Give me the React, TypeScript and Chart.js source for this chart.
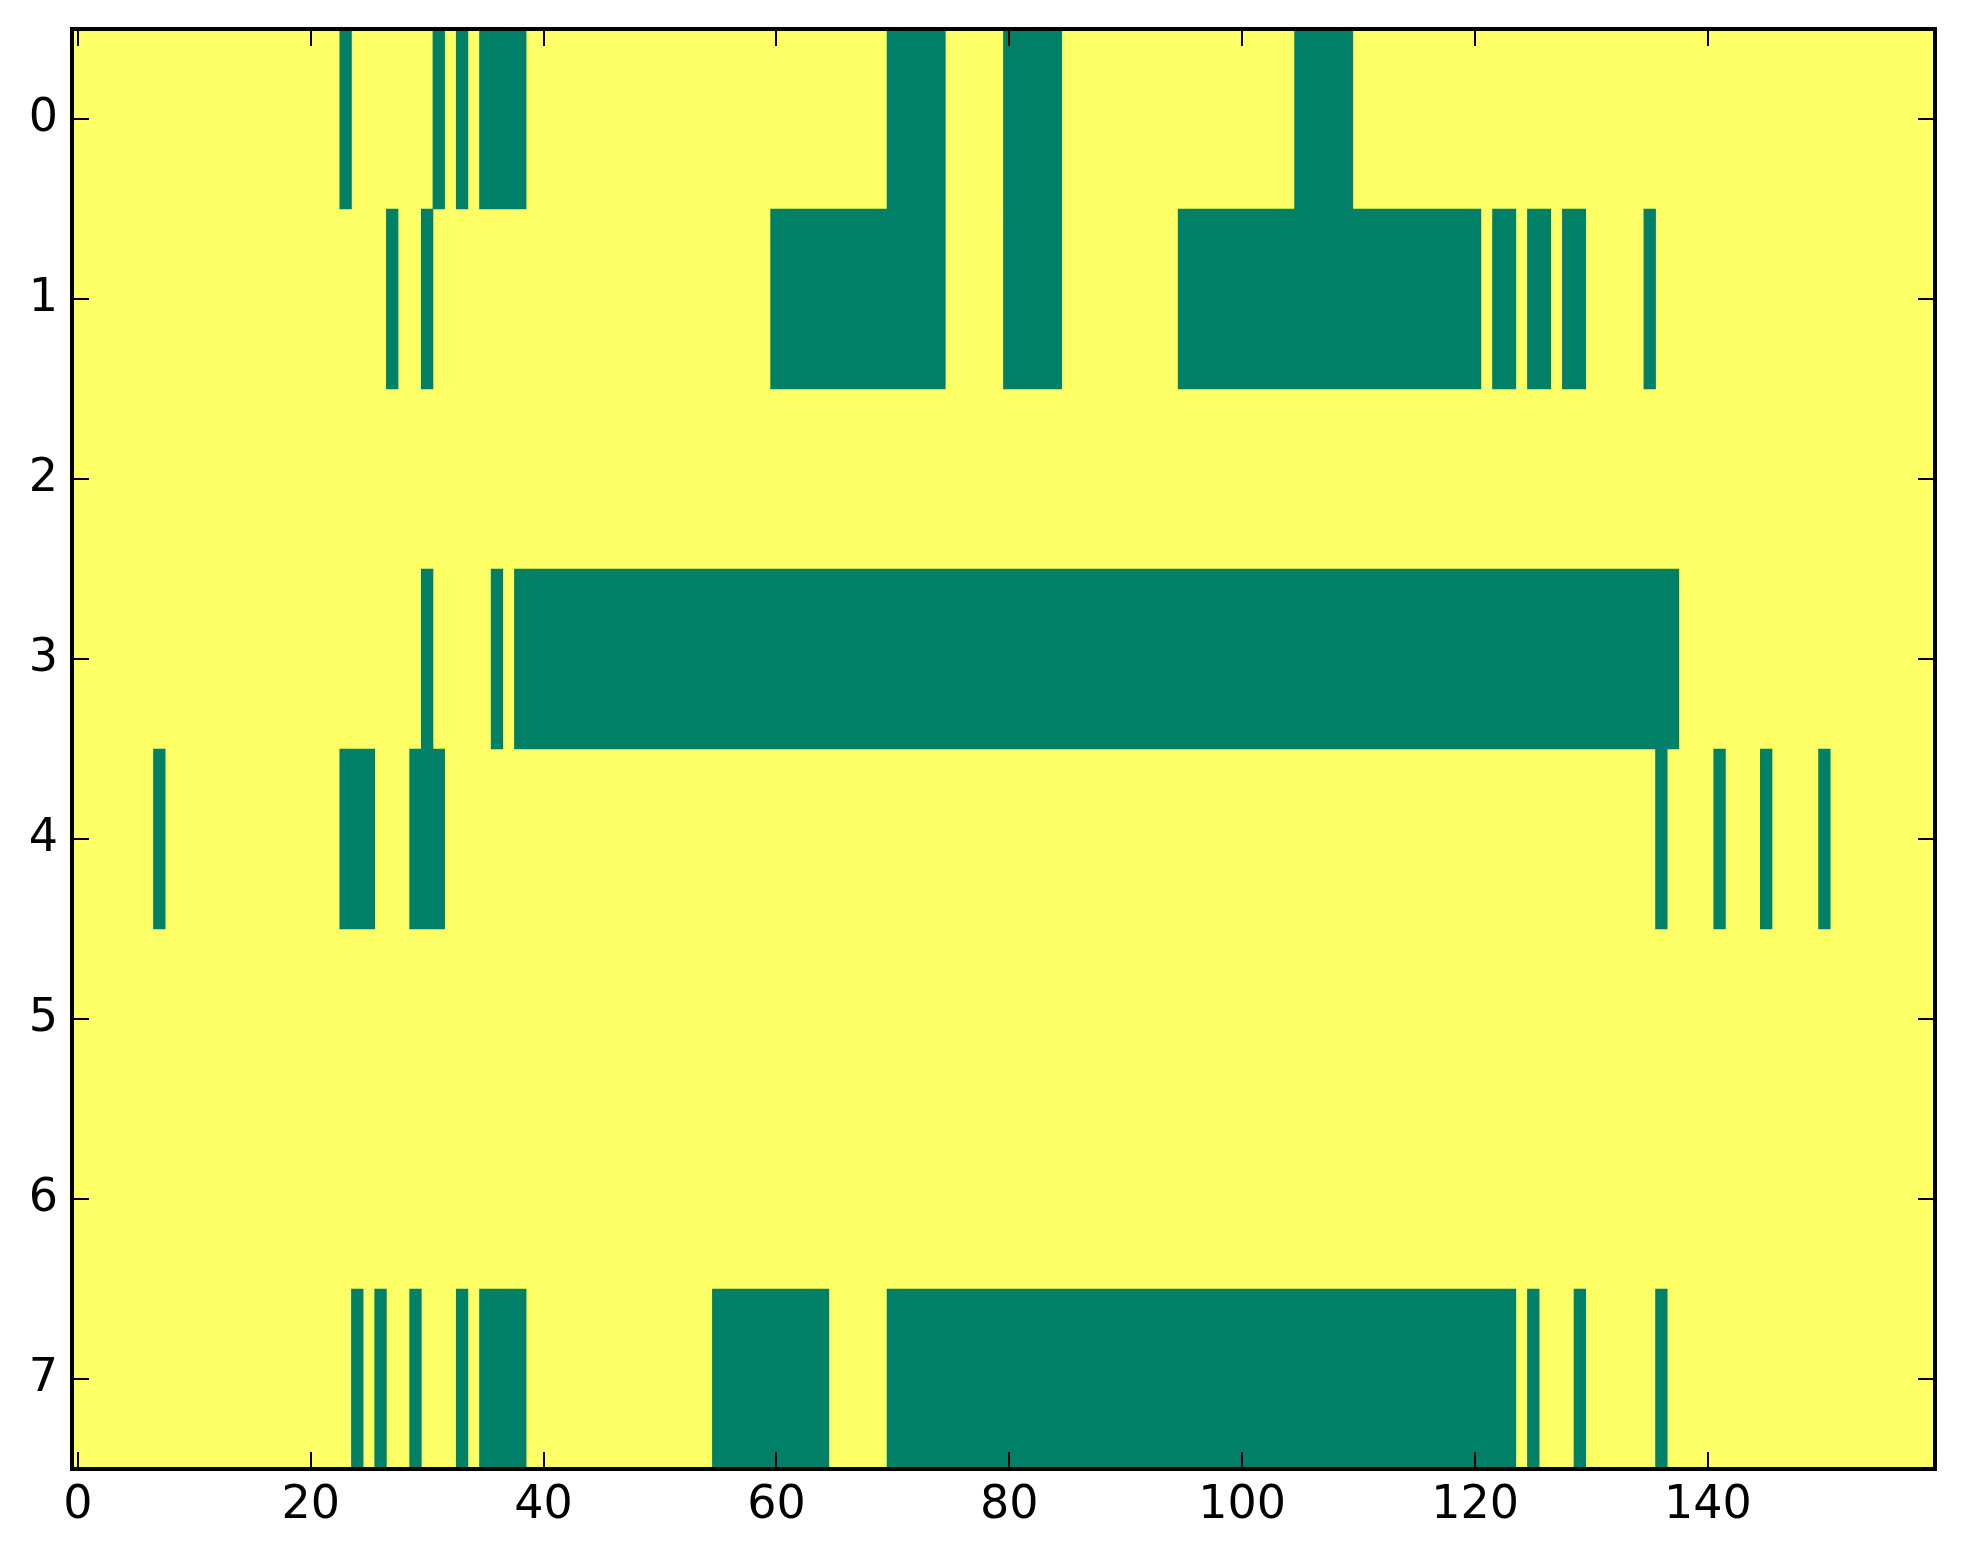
import React, { useEffect, useRef } from "react";
import { Chart, registerables } from "chart.js";

Chart.register(...registerables);

// Image: 8 rows x 160 columns of 0/1 values. Green cells given as inclusive [start, end] column runs per row.
const rowLabels = ["0", "1", "2", "3", "4", "5", "6", "7"];
const nCols = 160;
const row0Runs: number[][] = [[23, 23], [31, 31], [33, 33], [35, 38], [70, 74], [80, 84], [105, 109]];
const row1Runs: number[][] = [[27, 27], [30, 30], [60, 74], [80, 84], [95, 120], [122, 123], [125, 126], [128, 129], [135, 135]];
const row2Runs: number[][] = [];
const row3Runs: number[][] = [[30, 30], [36, 36], [38, 137]];
const row4Runs: number[][] = [[7, 7], [23, 25], [29, 31], [136, 136], [141, 141], [145, 145], [150, 150]];
const row5Runs: number[][] = [];
const row6Runs: number[][] = [];
const row7Runs: number[][] = [[24, 24], [26, 26], [29, 29], [33, 33], [35, 38], [55, 64], [70, 123], [125, 125], [129, 129], [136, 136]];
const xTickValues = [0, 20, 40, 60, 80, 100, 120, 140];

const allRuns = [row0Runs, row1Runs, row2Runs, row3Runs, row4Runs, row5Runs, row6Runs, row7Runs];

const LOW = "#ffff66";
const HIGH = "#008066";

export default function App() {
  const ref = useRef<HTMLCanvasElement>(null);
  useEffect(() => {
    const canvas = ref.current!;
    const maxRuns = Math.max(...allRuns.map((r) => r.length));
    const datasets = [];
    for (let k = 0; k < maxRuns; k++) {
      datasets.push({
        data: allRuns.map((runs) => (runs[k] ? [runs[k][0] - 0.5, runs[k][1] + 0.5] : null)),
        backgroundColor: HIGH,
        borderWidth: 0,
        barPercentage: 1,
        categoryPercentage: 1,
        grouped: false,
      });
    }
    const framePlugin = {
      id: "frame",
      beforeDatasetsDraw(chart: any) {
        const { ctx, chartArea: a } = chart;
        ctx.save();
        ctx.fillStyle = LOW;
        ctx.fillRect(a.left, a.top, a.right - a.left, a.bottom - a.top);
        ctx.restore();
      },
      afterDatasetsDraw(chart: any) {
        const { ctx, chartArea: a, scales } = chart;
        ctx.save();
        ctx.strokeStyle = "#000";
        ctx.lineWidth = 2;
        const tl = 17;
        ctx.beginPath();
        for (const v of xTickValues) {
          const x = Math.round(scales.x.getPixelForValue(v));
          ctx.moveTo(x, a.bottom);
          ctx.lineTo(x, a.bottom - tl);
          ctx.moveTo(x, a.top);
          ctx.lineTo(x, a.top + tl);
        }
        rowLabels.forEach((_, i) => {
          const y = Math.round(scales.y.getPixelForValue(i));
          ctx.moveTo(a.left, y);
          ctx.lineTo(a.left + tl, y);
          ctx.moveTo(a.right, y);
          ctx.lineTo(a.right - tl, y);
        });
        ctx.stroke();
        ctx.lineWidth = 4;
        ctx.strokeRect(a.left, a.top, a.right - a.left, a.bottom - a.top);
        ctx.restore();
      },
    };
    const chart = new Chart(canvas, {
      type: "bar",
      data: { labels: rowLabels, datasets: datasets as any },
      options: {
        indexAxis: "y",
        animation: false,
        responsive: false,
        devicePixelRatio: 1,
        layout: { padding: { top: 29, right: 28, left: 0, bottom: 0 } },
        plugins: { legend: { display: false }, tooltip: { enabled: false } },
        scales: {
          x: {
            type: "linear",
            min: -0.5,
            max: nCols - 0.5,
            grid: { display: false, drawTicks: false },
            border: { display: false },
            afterBuildTicks: (s: any) => {
              s.ticks = xTickValues.map((v) => ({ value: v }));
            },
            afterFit: (s: any) => {
              s.height = 95;
              s.paddingLeft = 0;
              s.paddingRight = 0;
            },
            ticks: {
              autoSkip: false,
              maxRotation: 0,
              padding: 9,
              color: "#000",
              font: { family: "DejaVu Sans", size: 46 },
            },
          },
          y: {
            type: "category",
            offset: true,
            grid: { display: false, drawTicks: false },
            border: { display: false },
            afterFit: (s: any) => {
              s.width = 72;
              s.paddingTop = 0;
              s.paddingBottom = 0;
            },
            ticks: {
              padding: 14,
              color: "#000",
              font: { family: "DejaVu Sans", size: 46 },
            },
          },
        },
      },
      plugins: [framePlugin],
    });
    return () => chart.destroy();
  }, []);
  return (
    <div style={{ position: "absolute", left: 0, top: 0, width: 1963, height: 1564, background: "#fff" }}>
      <canvas ref={ref} width={1963} height={1564} style={{ display: "block" }} />
    </div>
  );
}
